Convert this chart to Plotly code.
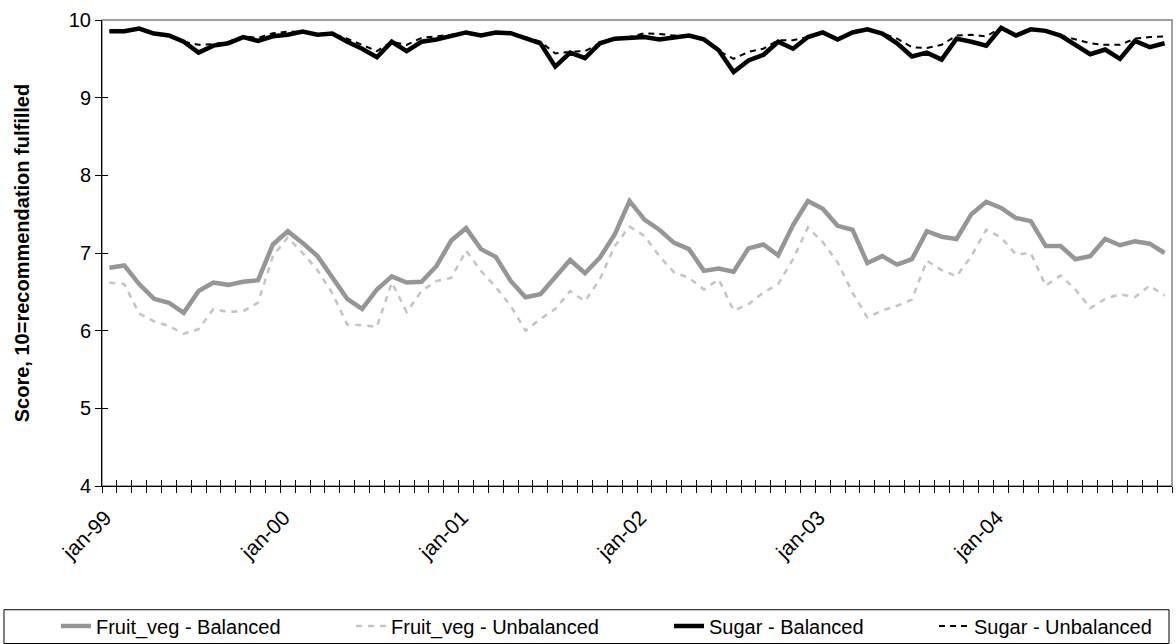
import plotly.graph_objects as go

# ---- data ----
years = ["99", "00", "01", "02", "03", "04"]
month_abbr = ["jan", "feb", "mar", "apr", "may", "jun", "jul", "aug", "sep", "oct", "nov", "dec"]
months = [f"{m}-{y}" for y in years for m in month_abbr]
tick_labels = ["jan-99", "jan-00", "jan-01", "jan-02", "jan-03", "jan-04"]

fruit_bal = [6.81, 6.84, 6.60, 6.41, 6.36, 6.23, 6.51, 6.62, 6.59, 6.63, 6.65, 7.11,
             7.28, 7.13, 6.96, 6.68, 6.41, 6.28, 6.53, 6.70, 6.62, 6.63, 6.83, 7.16,
             7.32, 7.05, 6.95, 6.64, 6.43, 6.47, 6.68, 6.91, 6.74, 6.94, 7.24, 7.67,
             7.43, 7.30, 7.13, 7.05, 6.77, 6.80, 6.76, 7.06, 7.11, 6.97, 7.36, 7.67,
             7.57, 7.35, 7.30, 6.87, 6.96, 6.85, 6.92, 7.28, 7.21, 7.18, 7.50, 7.66,
             7.58, 7.45, 7.41, 7.09, 7.09, 6.92, 6.96, 7.18, 7.10, 7.15, 7.12, 7.00]

fruit_unbal = [6.62, 6.60, 6.22, 6.12, 6.06, 5.96, 6.02, 6.28, 6.24, 6.25, 6.36, 6.96,
               7.20, 7.00, 6.78, 6.48, 6.08, 6.07, 6.05, 6.62, 6.24, 6.51, 6.64, 6.68,
               7.03, 6.77, 6.56, 6.32, 6.00, 6.15, 6.28, 6.51, 6.38, 6.66, 7.09, 7.34,
               7.22, 6.96, 6.75, 6.68, 6.53, 6.66, 6.26, 6.34, 6.49, 6.60, 6.92, 7.33,
               7.14, 6.88, 6.49, 6.17, 6.26, 6.32, 6.40, 6.90, 6.78, 6.70, 6.96, 7.30,
               7.20, 6.98, 7.00, 6.58, 6.71, 6.53, 6.29, 6.41, 6.47, 6.43, 6.58, 6.45]

sugar_bal = [9.855, 9.855, 9.89, 9.825, 9.80, 9.72, 9.58, 9.67, 9.70, 9.78, 9.73, 9.79,
             9.81, 9.85, 9.81, 9.825, 9.72, 9.63, 9.52, 9.72, 9.60, 9.72, 9.75, 9.79,
             9.84, 9.80, 9.84, 9.83, 9.77, 9.70, 9.40, 9.58, 9.51, 9.70, 9.76, 9.77,
             9.78, 9.75, 9.77, 9.80, 9.75, 9.61, 9.33, 9.48, 9.55, 9.72, 9.63, 9.78,
             9.84, 9.75, 9.84, 9.88, 9.825, 9.70, 9.53, 9.58, 9.49, 9.76, 9.72, 9.67,
             9.90, 9.80, 9.88, 9.86, 9.80, 9.68, 9.56, 9.62, 9.50, 9.73, 9.65, 9.70]

sugar_unbal = [9.855, 9.855, 9.89, 9.825, 9.80, 9.72, 9.68, 9.69, 9.72, 9.79, 9.77, 9.83,
               9.85, 9.85, 9.82, 9.825, 9.76, 9.68, 9.60, 9.72, 9.68, 9.77, 9.79, 9.81,
               9.84, 9.81, 9.84, 9.83, 9.78, 9.72, 9.57, 9.59, 9.60, 9.70, 9.75, 9.78,
               9.83, 9.82, 9.80, 9.80, 9.76, 9.60, 9.50, 9.59, 9.63, 9.74, 9.74, 9.78,
               9.84, 9.76, 9.84, 9.88, 9.83, 9.76, 9.65, 9.64, 9.68, 9.80, 9.81, 9.79,
               9.90, 9.80, 9.88, 9.86, 9.80, 9.75, 9.70, 9.68, 9.68, 9.76, 9.78, 9.79]

FONT = "Liberation Sans, Arial, sans-serif"
idx = list(range(len(months)))

fig = go.Figure()
# (name, values, line style, x axis, y axis, legend id, legend x in container)
series = [
    ("Fruit_veg - Balanced", fruit_bal, dict(color="#969696", width=4.5), "x", "y", "legend", 0.0476),
    ("Fruit_veg - Unbalanced", fruit_unbal, dict(color="#C4C4C4", width=2.5, dash="6px,6px"), "x2", "y", "legend2", 0.2985),
    ("Sugar - Balanced", sugar_bal, dict(color="#000000", width=4.5), "x3", "y", "legend3", 0.5689),
    ("Sugar - Unbalanced", sugar_unbal, dict(color="#000000", width=2, dash="6px,5px"), "x", "y2", "legend4", 0.7942),
]
legend_layouts = {}
for name, vals, line, xa, ya, lg, lx in series:
    fig.add_trace(go.Scatter(x=idx, y=vals, name=name, mode="lines", line=line,
                             xaxis=xa, yaxis=ya, legend=lg,
                             customdata=months,
                             hovertemplate="%{customdata}: %{y}<extra>" + name + "</extra>"))
    legend_layouts[lg] = dict(orientation="h", xref="container", yref="container",
                              x=lx, xanchor="left", y=0.028, yanchor="middle",
                              font=dict(family=FONT, size=20, color="black"),
                              bgcolor="rgba(0,0,0,0)", borderwidth=0)

boundaries = [i - 0.5 for i in range(len(months) + 1)]
xr = [-0.5, len(months) - 0.5]

tick_axis = dict(range=xr, anchor="y", side="bottom", automargin=False,
                 tickmode="array", tickvals=boundaries, ticklen=6,
                 tickcolor="black", tickwidth=1, showticklabels=False,
                 showline=False, showgrid=False, zeroline=False)

fig.update_layout(
    width=1176, height=644,
    margin=dict(l=102, r=4, t=20, b=158, autoexpand=False),
    paper_bgcolor="white", plot_bgcolor="white",
    font=dict(family=FONT, size=20, color="black"),
    showlegend=True,
    xaxis=dict(range=xr, tickmode="array", automargin=False,
               tickvals=[months.index(t) for t in tick_labels], ticktext=tick_labels,
               ticks="", tickangle=-45, tickfont=dict(size=21, family=FONT),
               ticklabelstandoff=10, ticklabelshift=-4,
               showline=True, linecolor="black", linewidth=1,
               showgrid=False, zeroline=False),
    xaxis2=dict(tick_axis, overlaying="x", ticks="outside"),
    xaxis3=dict(tick_axis, overlaying="x", ticks="inside"),
    yaxis=dict(range=[4, 10], tickmode="linear", tick0=4, dtick=1, automargin=False,
               ticks="outside", ticklen=6, tickcolor="black",
               tickfont=dict(size=20, family=FONT),
               showline=True, linecolor="black", linewidth=1,
               showgrid=False, zeroline=False,
               title=dict(text="<b>Score, 10=recommendation fulfilled</b>",
                          font=dict(size=20, family=FONT), standoff=33)),
    yaxis2=dict(range=[4, 10], overlaying="y", anchor="x", side="left", automargin=False,
                tickmode="linear", tick0=4, dtick=1, ticks="inside", ticklen=6,
                tickcolor="black", showticklabels=False,
                showline=False, showgrid=False, zeroline=False),
    shapes=[
        dict(type="rect", xref="x domain", yref="y domain", x0=0, x1=1, y0=0, y1=1,
             line=dict(color="#808080", width=1.5), layer="below"),
        dict(type="rect", xref="paper", yref="paper", x0=-0.0916, x1=0.9972,
             y0=-0.338, y1=-0.2655, line=dict(color="black", width=1),
             fillcolor="rgba(0,0,0,0)", layer="below"),
    ],
    **legend_layouts,
)

fig.write_html("out.html", config={"displayModeBar": False},
               post_script="document.body.style.margin='0';document.body.style.padding='0';")
